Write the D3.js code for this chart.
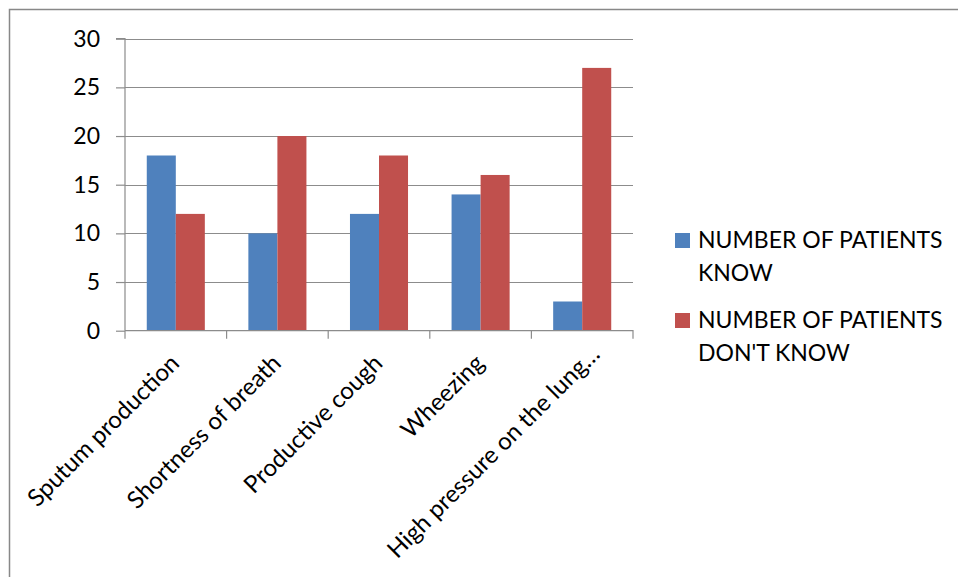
<!DOCTYPE html>
<html><head><meta charset="utf-8">
<script src="https://cdn.jsdelivr.net/npm/d3@7"></script>
<style>body{margin:0;background:#fff}svg{display:block}text{font-family:Lato,"Open Sans",sans-serif;fill:#000}</style>
</head><body>
<svg id="c" width="958" height="577"></svg>
<script>
const categories = ["Sputum production","Shortness of breath","Productive cough","Wheezing","High pressure on the lung…"];
const seriesNames = ["NUMBER OF PATIENTS KNOW","NUMBER OF PATIENTS DON'T KNOW"];
const legendLines = [["NUMBER OF PATIENTS","KNOW"],["NUMBER OF PATIENTS","DON'T KNOW"]];
const know = [18,10,12,14,3];
const dontKnow = [12,20,18,16,27];
const yTicks = [0,5,10,15,20,25,30];
const colors = ["#4F81BD","#C0504D"];

const svg = d3.select("#c");
svg.append("rect").attr("x",9.5).attr("y",9.5).attr("width",960).attr("height",600)
  .attr("fill","none").attr("stroke","#888").attr("stroke-width",1.5);

const L=125, R=633, T=38.7, B=330.7;
const x = d3.scaleBand().domain(categories).range([L,R]).paddingInner(0).paddingOuter(0);
const y = d3.scaleLinear().domain([0,30]).range([B,T]);
const sub = d3.scaleBand().domain([0,1]).range([0,x.bandwidth()]).paddingInner(0).paddingOuter(0.75);

const grid = svg.append("g");
grid.selectAll("line").data(yTicks.filter(d=>d>0)).join("line")
  .attr("x1",L).attr("x2",R).attr("y1",d=>Math.round(y(d))+0.5).attr("y2",d=>Math.round(y(d))+0.5)
  .attr("stroke","#8c8c8c").attr("stroke-width",1.2);

const data = categories.map((c,i)=>({c, v:[know[i],dontKnow[i]]}));
const g = svg.append("g");
g.selectAll("g").data(data).join("g").attr("transform",d=>`translate(${x(d.c)},0)`)
  .selectAll("rect").data(d=>d.v.map((v,k)=>({v,k}))).join("rect")
  .attr("x",d=>sub(d.k)).attr("width",sub.bandwidth())
  .attr("y",d=>y(d.v)).attr("height",d=>B-y(d.v))
  .attr("fill",d=>colors[d.k]);

const yAxis = d3.axisLeft(y).tickValues(yTicks).tickSize(9).tickPadding(16);
const ya = svg.append("g").attr("transform",`translate(${L},0)`).call(yAxis);
ya.selectAll("path,line").attr("stroke","#8c8c8c").attr("stroke-width",1.2);
ya.select(".domain").attr("d",`M-9,${T}H0V${B}`);
ya.selectAll("text").attr("font-size",23).attr("font-family","Lato").attr("fill","#000");

const xAxis = d3.axisBottom(x).tickSize(0).tickFormat("");
const xa = svg.append("g").attr("transform",`translate(0,${B})`).call(xAxis);
xa.select(".domain").attr("d",`M${L},0H${R}V8`).attr("stroke","#8c8c8c").attr("stroke-width",1.2).attr("fill","none");
xa.selectAll(".edgetick").data(categories).join("line").attr("class","edgetick")
  .attr("x1",d=>x(d)).attr("x2",d=>x(d)).attr("y1",0).attr("y2",8)
  .attr("stroke","#8c8c8c").attr("stroke-width",1.2);

const last = categories.length-1;
svg.append("g").selectAll("text").data(categories).join("text")
  .attr("transform",(d,i)=>`translate(${x(d)+x.bandwidth()/2+(i===last?19:5)},${B+(i===last?25:34)}) rotate(-45)`)
  .attr("text-anchor","end").attr("font-size",24).text(d=>d);

const leg = svg.append("g");
const legY = [233,313];
legendLines.forEach((lines,i)=>{
  leg.append("rect").attr("x",675).attr("y",legY[i]).attr("width",15).attr("height",15).attr("fill",colors[i]);
  const t = leg.append("text").attr("x",698).attr("y",legY[i]+15).attr("font-size",23);
  lines.forEach((s,j)=>t.append("tspan").attr("x",698).attr("dy",j?33:0).text(s));
});
</script>
</body></html>
